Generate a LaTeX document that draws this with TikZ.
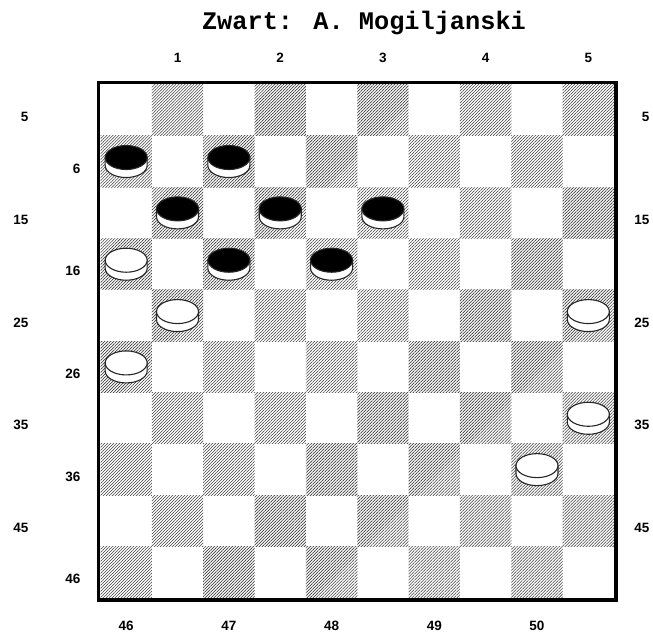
\documentclass[tikz,border=0pt]{standalone}
\usepackage{fontspec}
\setmainfont{Liberation Sans}
\newfontfamily\monofont{Liberation Mono}
\usepackage{tikz}
\usetikzlibrary{patterns.meta}
% one square of the board, in pt
\newcommand{\sq}{51.35}
% a draughts piece on row #1, column #2, top coloured #3
\newcommand{\checker}[3]{%
  \begin{scope}[shift={({100.5+(#2+0.5)*\sq},{84.5+(#1+0.5)*\sq})}]
  \draw[piece,fill=white] (-21,-4) -- (-21,4) arc[start angle=180,end angle=0,x radius=21,y radius=12] -- (21,-4) -- cycle;
  \draw[piece,fill=#3] (0,-4) ellipse[x radius=21,y radius=12];
  \end{scope}}

\begin{document}
\begin{tikzpicture}[x=1pt,y=-1pt]
\tikzstyle{dark}=[pattern={Lines[angle=45,distance=2.12pt,line width=0.6pt]},pattern color=black!75]
\tikzstyle{piece}=[line width=1.1pt,draw=black!85]
\tikzstyle{lbl}=[inner sep=0pt,font=\bfseries\fontsize{13.5}{14}\selectfont]
\useasboundingbox (0,0) rectangle (653,632);

\node[inner sep=0pt,anchor=base,font=\monofont\bfseries\fontsize{25.3}{26}\selectfont] (title) at (364,29) {Zwart: A. Mogiljanski};

% dark squares
\foreach \r in {0,...,9}
  \foreach \k in {0,...,4} {
    \pgfmathtruncatemacro{\c}{2*\k+1-mod(\r,2)}
    \path[dark] ({100.5+\c*\sq},{84.5+\r*\sq}) rectangle ++(\sq,\sq);
  }
\draw[line width=3.5pt] (98.5,82.5) rectangle (616,600);

% numbers round the board
\foreach \n in {1,...,5}
  \node[lbl,anchor=base] (top\n) at ({100.5+(2*\n-0.5)*\sq},62) {\n};
\foreach \n [evaluate=\n as \c using {2*(\n-46)+0.5}] in {46,...,50}
  \node[lbl,anchor=base] (bot\n) at ({100.5+\c*\sq},630.5) {\n};
\foreach \k [evaluate=\k as \n using {int(10*\k+5)},evaluate=\k as \m using {int(10*\k+6)}] in {0,...,4} {
  \node[lbl,anchor=base east] (left\n) at (28.5,{84.5+(2*\k+0.5)*\sq+11.5}) {\n};
  \node[lbl,anchor=base east] (left\m) at (80.5,{84.5+(2*\k+1.5)*\sq+11.5}) {\m};
  \node[lbl,anchor=base east] (right\n) at (649.5,{84.5+(2*\k+0.5)*\sq+11.5}) {\n};
}

% black pieces
\checker{1}{0}{black}
\checker{1}{2}{black}
\checker{2}{1}{black}
\checker{2}{3}{black}
\checker{2}{5}{black}
\checker{3}{2}{black}
\checker{3}{4}{black}
% white pieces
\checker{3}{0}{white}
\checker{4}{1}{white}
\checker{4}{9}{white}
\checker{5}{0}{white}
\checker{6}{9}{white}
\checker{7}{8}{white}
\end{tikzpicture}
\end{document}
